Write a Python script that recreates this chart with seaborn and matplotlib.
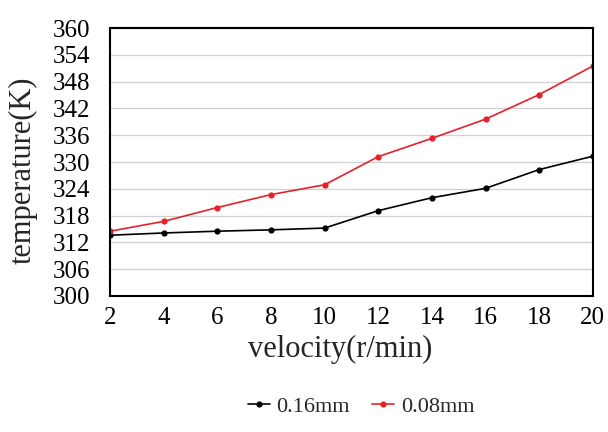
import pandas as pd
import matplotlib
matplotlib.use("Agg")
import matplotlib.pyplot as plt
import seaborn as sns

velocity = [2, 4, 6, 8, 10, 12, 14, 16, 18, 20]
temp_016 = [313.6, 314.1, 314.5, 314.8, 315.2, 319.1, 322.0, 324.1, 328.3, 331.3]
temp_008 = [314.5, 316.7, 319.8, 322.7, 324.9, 331.2, 335.3, 339.6, 345.1, 351.5]
series_names = ["0.16mm", "0.08mm"]
y_ticks = [300, 306, 312, 318, 324, 330, 336, 342, 348, 354, 360]

sns.set_style("white")
plt.rcParams['font.family'] = ['Liberation Serif', 'DejaVu Serif']

df = pd.DataFrame({
    'velocity': velocity * 2,
    'temperature': temp_016 + temp_008,
    'series': [series_names[0]] * len(velocity) + [series_names[1]] * len(velocity),
})

fig, ax = plt.subplots(figsize=(6.08, 4.32), dpi=100)
fig.subplots_adjust(left=0.181, right=0.975, top=0.935, bottom=0.315)

sns.lineplot(data=df, x='velocity', y='temperature', hue='series',
             palette={series_names[0]: 'black', series_names[1]: '#e8202a'},
             marker='o', markersize=4.5, markeredgewidth=0, linewidth=1.2, ax=ax)

ax.set_xlim(2, 20)
ax.set_ylim(300, 360)
ax.set_xticks(velocity)
ax.set_yticks(y_ticks)
ax.yaxis.grid(True, color='#d0d0d0', linewidth=0.9)
ax.tick_params(axis='both', direction='in', length=6, width=1.2, labelsize=18, colors='black')
ax.tick_params(axis='y', pad=14)
ax.tick_params(axis='x', pad=8)
for s in ax.spines.values():
    s.set_color('black')
    s.set_linewidth(1.5)

ax.set_xlabel('velocity(r/min)', fontsize=22, va='center')
ax.xaxis.set_label_coords(0.476, -0.20)
ax.set_ylabel('temperature(K)', fontsize=22, ha='center', va='center')
ax.yaxis.set_label_coords(-0.18, 0.47)

handles, labels = ax.get_legend_handles_labels()
ax.legend(handles, labels, loc='center', bbox_to_anchor=(0.52, -0.414), ncol=2,
          frameon=False, fontsize=16, handlelength=1.0, columnspacing=1.0, handletextpad=0.3)

plt.savefig('out.png', dpi=100)
plt.close()
